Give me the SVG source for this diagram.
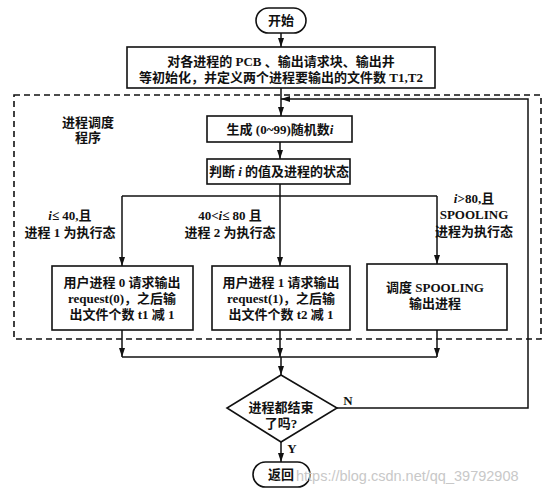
<svg xmlns="http://www.w3.org/2000/svg" width="554" height="493" viewBox="0 0 554 493">
<style>
.box{fill:#fff;stroke:#111;stroke-width:1.6}
.ln{fill:none;stroke:#111;stroke-width:1.5}
.dash{fill:none;stroke:#111;stroke-width:1.6;stroke-dasharray:6 4}
text{font-family:"Liberation Serif","Noto Sans CJK SC",serif;font-size:13px;font-weight:bold;fill:#111;text-anchor:middle}
.wm{font-family:"Liberation Sans",sans-serif;font-weight:normal;font-size:14.5px;fill:#c8c8c8;text-anchor:start}
</style>
<defs>
<marker id="arr" markerUnits="userSpaceOnUse" markerWidth="10" markerHeight="8" refX="9" refY="3" orient="auto">
<path d="M0,0 L9,3 L0,6 z" fill="#111"/>
</marker>
</defs>
<rect width="554" height="493" fill="#fff"/>
<rect class="dash" x="14" y="95" width="527" height="244"/>
<g id="region-label">
<text x="88" y="127">进程调度</text>
<text x="88" y="142">程序</text>
</g>
<g id="connectors">
<line class="ln" x1="281" y1="33" x2="281" y2="47" marker-end="url(#arr)"/>
<line class="ln" x1="281" y1="88" x2="281" y2="116" marker-end="url(#arr)"/>
<line class="ln" x1="280" y1="142" x2="280" y2="159" marker-end="url(#arr)"/>
<polyline class="ln" points="280,184 280,196"/>
<line class="ln" x1="122" y1="196" x2="437" y2="196"/>
<line class="ln" x1="122" y1="196" x2="122" y2="266" marker-end="url(#arr)"/>
<line class="ln" x1="280" y1="196" x2="280" y2="266" marker-end="url(#arr)"/>
<line class="ln" x1="437" y1="196" x2="437" y2="264" marker-end="url(#arr)"/>
<line class="ln" x1="122" y1="330" x2="122" y2="357" marker-end="url(#arr)"/>
<line class="ln" x1="280" y1="330" x2="280" y2="357" marker-end="url(#arr)"/>
<line class="ln" x1="437" y1="330" x2="437" y2="357" marker-end="url(#arr)"/>
<line class="ln" x1="122" y1="357" x2="437" y2="357"/>
<line class="ln" x1="281" y1="357" x2="281" y2="375" marker-end="url(#arr)"/>
<line class="ln" x1="281" y1="442" x2="281" y2="462" marker-end="url(#arr)"/>
<polyline class="ln" points="337,408 528,408 528,99 281,99" marker-end="url(#arr)"/>
<text x="348" y="405">N</text>
<text x="292" y="453">Y</text>
</g>
<g id="start">
<rect class="box" x="256" y="8" width="50" height="25" rx="12.5"/>
<text x="281" y="25">开始</text>
</g>
<g id="init">
<rect class="box" x="127" y="47" width="308" height="41"/>
<text x="281" y="66">对各进程的 PCB 、输出请求块、输出井</text>
<text x="281" y="82">等初始化，并定义两个进程要输出的文件数 T1,T2</text>
</g>
<g id="gen">
<rect class="box" x="207" y="116" width="145" height="26"/>
<text x="280" y="134">生成 (0~99)随机数<tspan font-style="italic">i</tspan></text>
</g>
<g id="judge">
<rect class="box" x="207" y="159" width="143" height="25"/>
<text x="279" y="176">判断 <tspan font-style="italic">i</tspan> 的值及进程的状态</text>
</g>
<g id="cond-labels">
<text x="70" y="220"><tspan font-style="italic">i</tspan>≤ 40,且</text>
<text x="70" y="237">进程 1 为执行态</text>
<text x="230" y="220">40&lt;<tspan font-style="italic">i</tspan>≤ 80 且</text>
<text x="230" y="237">进程 2 为执行态</text>
<text x="474" y="203"><tspan font-style="italic">i</tspan>&gt;80,且</text>
<text x="474" y="219">SPOOLING</text>
<text x="474" y="236">进程为执行态</text>
</g>
<g id="user0">
<rect class="box" x="52" y="266" width="141" height="64"/>
<text x="122" y="287">用户进程 0 请求输出</text>
<text x="122" y="303">request(0)，之后输</text>
<text x="122" y="319">出文件个数 t1 减 1</text>
</g>
<g id="user1">
<rect class="box" x="212" y="266" width="138" height="64"/>
<text x="281" y="287">用户进程 1 请求输出</text>
<text x="281" y="303">request(1)，之后输</text>
<text x="281" y="319">出文件个数 t2 减 1</text>
</g>
<g id="spool">
<rect class="box" x="367" y="264" width="140" height="66"/>
<text x="435" y="292">调度 SPOOLING</text>
<text x="435" y="308">输出进程</text>
</g>
<g id="done">
<polygon class="box" points="281,375 337,408 281,442 227,408"/>
<text x="281" y="412">进程都结束</text>
<text x="281" y="428">了吗?</text>
</g>
<g id="return">
<rect class="box" x="253" y="462" width="57" height="25" rx="12.5"/>
<text x="281" y="479">返回</text>
</g>
<text class="wm" x="296" y="481">https://blog.csdn.net/qq_39792908</text>
</svg>
